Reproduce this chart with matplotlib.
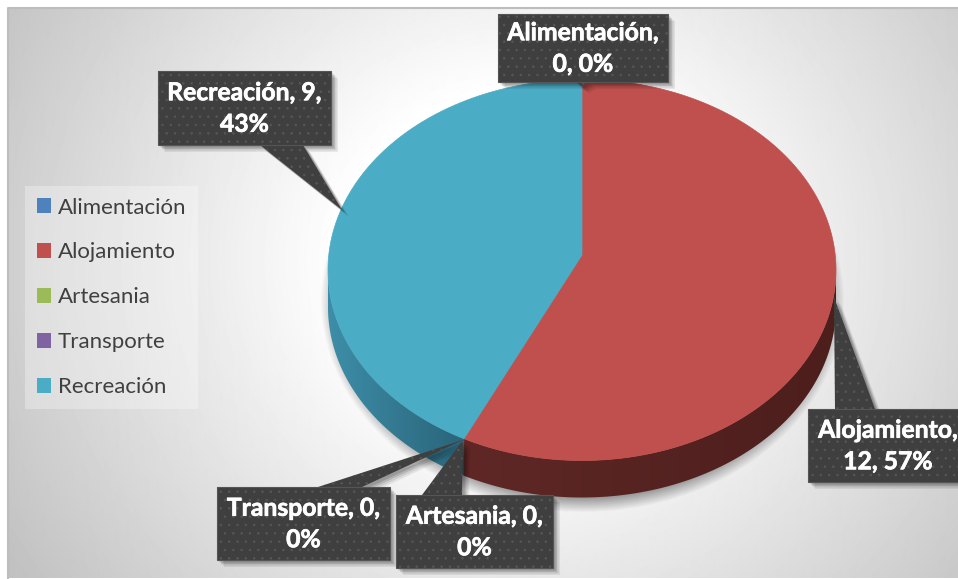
import numpy as np
import matplotlib
matplotlib.use('Agg')
import matplotlib.pyplot as plt
import matplotlib.patheffects as pe
from matplotlib.colors import LinearSegmentedColormap
from matplotlib.patches import Patch, Polygon, Rectangle

categories = ['Alimentación', 'Alojamiento', 'Artesania', 'Transporte', 'Recreación']
values = [0, 12, 0, 0, 9]
colors = ['#4F81BD', '#C0504D', '#9BBB59', '#8064A2', '#4BACC6']
side_dark = {'Alojamiento': ['#5f2826', '#4c1e1c'], 'Recreación': ['#2a6478', '#3d8ea9']}
labels = ['Alimentación,\n0, 0%', 'Alojamiento,\n12, 57%', 'Artesania, 0,\n0%',
          'Transporte, 0,\n0%', 'Recreación, 9,\n43%']
# callout box (x0,y0,x1,y1), pointer base x0,x1 and tip, in pixels
boxes = [(498, 14, 668, 82), (808, 409, 962, 482), (396, 495, 553, 568),
         (217, 487, 390, 560), (158, 71, 331, 145)]
pointers = [((575, 590), (582, 86)), ((835, 875), (834, 297)), ((422, 462), (463, 440)),
            ((318, 362), (463, 440)), ((260, 303), (342, 210))]

plt.rcParams['font.family'] = ['Lato', 'DejaVu Sans']
W, H = 958, 579
cx, cy, rx, ry = 582, 270, 254, 190.5
apex_y = 255
depth = 37

fig = plt.figure(figsize=(W / 100, H / 100), dpi=100)
ax = fig.add_axes([0, 0, 1, 1])
ax.axis('off')


def gradient(arr, extent, cmap=None, zorder=1, clip=None, vmin=None, vmax=None):
    im = ax.imshow(arr, extent=extent, cmap=cmap, aspect='auto', zorder=zorder,
                   vmin=vmin, vmax=vmax, interpolation='bilinear')
    if clip is not None:
        im.set_clip_path(clip)
    return im


def edge_param(t):
    # ray from the apex in the direction of angle t, cut with the ellipse
    dx, dy = rx * np.sin(t), -ry * np.cos(t)
    off = apex_y - cy
    a = (dx / rx) ** 2 + (dy / ry) ** 2
    b = 2 * off * dy / ry ** 2
    c = (off / ry) ** 2 - 1
    s = (-b + np.sqrt(b * b - 4 * a * c)) / (2 * a)
    x, y = dx * s / rx, (off + dy * s) / ry
    return np.arctan2(x, -y) % (2 * np.pi)


def arc(t0, t1, shift=0, n=200):
    t = np.linspace(t0, t1, n)
    return np.column_stack([cx + rx * np.sin(t), cy + shift - ry * np.cos(t)])


# background
xx, yy = np.meshgrid(np.arange(8, W + 1), np.arange(8, 578))
r = np.sqrt(((xx - 520) / 600) ** 2 + ((yy - 260) / 560) ** 2)
bg = 1 - 0.24 * np.clip((r - 0.3) / 0.7, 0, 1)
gradient(bg, (8, W, 578, 8), cmap='gray', vmin=0, vmax=1, zorder=1)
ax.plot([8, 8, W], [578, 8, 8], color='#bdbdbd', lw=1.5, zorder=2)

# soft shadow of the pie
xx, yy = np.meshgrid(np.arange(300, 870), np.arange(60, 530))
d = np.sqrt(((xx - cx) / 262) ** 2 + ((yy - (cy + 30)) / 212) ** 2)
sh = np.zeros(d.shape + (4,))
sh[..., 3] = 0.38 * np.clip((1.0 - d) / 0.07, 0, 1)
gradient(sh, (300, 870, 530, 60), zorder=3)

# pie, going clockwise from the top
total = sum(values)
angle = 0
for cat, val, col in zip(categories, values, colors):
    if val == 0:
        continue
    t0 = edge_param(angle)
    angle = angle + 2 * np.pi * val / total
    t1 = edge_param(angle) if angle < 2 * np.pi else 2 * np.pi
    # side wall only where the rim faces the viewer
    a0, a1 = max(t0, np.pi / 2), min(t1, 3 * np.pi / 2)
    top = arc(a0, a1)
    low = arc(a0, a1, depth)[::-1]
    wall = Polygon(np.vstack([top, low]), closed=True, transform=ax.transData, fc='none', ec='none')
    ax.add_patch(wall)
    cmap = LinearSegmentedColormap.from_list('s', side_dark[cat])
    x0, x1 = np.vstack([top, low])[:, 0].min(), np.vstack([top, low])[:, 0].max()
    g = np.linspace(0, 1, 256).reshape(1, -1)
    if cat == 'Alojamiento':
        gradient(g, (x0, x1, 510, 240), cmap=cmap, zorder=4, clip=wall)
    else:
        gradient(g[:, ::-1], (x0, x1, 510, 240), cmap=cmap, zorder=4, clip=wall)
    face = np.vstack([[cx, apex_y], arc(t0, t1)])
    ax.add_patch(Polygon(face, closed=True, fc=col, ec=col, lw=0.5, zorder=5))

# callouts
plt.rcParams['hatch.linewidth'] = 0.6
for lab, (x0, y0, x1, y1), ((b0, b1), tip) in zip(labels, boxes, pointers):
    if tip[1] < y0:
        outline = [(x0, y0), (b0, y0), tip, (b1, y0), (x1, y0), (x1, y1), (x0, y1)]
    else:
        outline = [(x0, y0), (x1, y0), (x1, y1), (b1, y1), tip, (b0, y1), (x0, y1)]
    for off, a in [(7, 0.07), (5.5, 0.09), (4, 0.12), (2.5, 0.14)]:
        ax.add_patch(Polygon([(px + off, py + off) for px, py in outline], closed=True,
                             fc='black', ec='none', alpha=a, zorder=6))
    ax.add_patch(Polygon(outline, closed=True, fc='#3f3f3f', ec='#565656', hatch='..',
                         lw=0, zorder=7))
    ax.add_patch(Rectangle((x0, y0), x1 - x0, y1 - y0, fc='none', ec='#555555', lw=0.8, zorder=7))
    xm = (x0 + x1) / 2 if lab[:4] != 'Aloj' else 888
    t = ax.text(xm, (y0 + y1) / 2 + 0.5, lab, color='white', fontsize=17.8, fontweight='bold',
                ha='center', va='center', linespacing=1.45, zorder=8, clip_on=True)
    t.set_path_effects([pe.withStroke(linewidth=0.5, foreground='white')])

# legend
handles = [Patch(fc=c, ec='none') for c in colors]
leg = ax.legend(handles, categories, loc='upper left', bbox_to_anchor=(25 / W, 1 - 185.5 / H),
                bbox_transform=fig.transFigure, frameon=True, fontsize=16, ncol=1,
                labelcolor='#404040', handlelength=0.63, handleheight=0.63, handletextpad=0.3,
                labelspacing=1.12, borderaxespad=0, borderpad=0.54, fancybox=False,
                edgecolor='none', facecolor='white', framealpha=0.3)
leg.set_zorder(9)

ax.set_xlim(0, W)
ax.set_ylim(H, 0)
fig.savefig('out.png', dpi=100, facecolor='white')
